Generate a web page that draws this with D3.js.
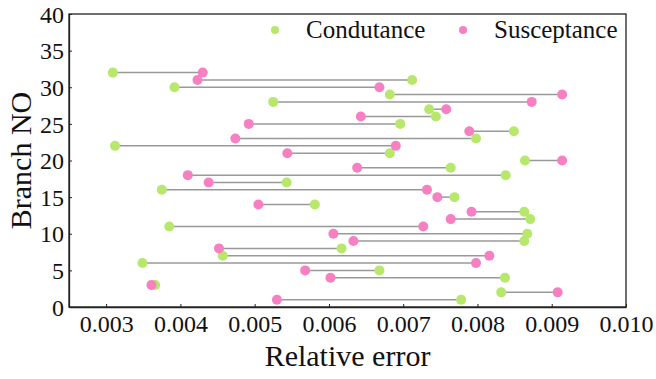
<!DOCTYPE html>
<html>
<head>
<meta charset="utf-8">
<script src="https://cdn.jsdelivr.net/npm/d3@7"></script>
<style>
  body { margin: 0; background: #fff; }
</style>
</head>
<body>
<div id="chart"></div>
<script>
// Branch numbers 1..32
const branches = d3.range(1, 33);

// Relative error per branch
const conductance = [
  0.00778, 0.00832, 0.00366, 0.00837, 0.00668, 0.00349, 0.00457, 0.00617,
  0.00863, 0.00867, 0.00385, 0.00871, 0.00863, 0.00581, 0.00769, 0.00375,
  0.00543, 0.00838, 0.00764, 0.00864, 0.00682, 0.00312, 0.00798, 0.00849,
  0.00696, 0.00744, 0.00735, 0.00525, 0.00682, 0.00392, 0.00712, 0.00309
];
const susceptance = [
  0.00530, 0.00908, 0.00361, 0.00602, 0.00568, 0.00798, 0.00816, 0.00452,
  0.00633, 0.00606, 0.00727, 0.00764, 0.00792, 0.00505, 0.00746, 0.00732,
  0.00438, 0.00410, 0.00638, 0.00914, 0.00544, 0.00690, 0.00474, 0.00789,
  0.00492, 0.00643, 0.00758, 0.00873, 0.00914, 0.00668, 0.00423, 0.00430
];

const xTicks = [0.003, 0.004, 0.005, 0.006, 0.007, 0.008, 0.009, 0.010];
const yTicks = [0, 5, 10, 15, 20, 25, 30, 35, 40];

const seriesNames = ['Condutance', 'Susceptance'];
const colors = { Condutance: '#b7e86b', Susceptance: '#f780c3' };

const FONT = "'Liberation Serif', 'Times New Roman', Tinos, 'DejaVu Serif', serif";

const width = 656, height = 379;
const margin = { top: 14, right: 30, bottom: 72, left: 69 };

const svg = d3.select('#chart').append('svg')
  .attr('width', width)
  .attr('height', height)
  .attr('font-family', FONT);

const x = d3.scaleLinear()
  .domain([0.0025, 0.010])
  .range([margin.left, width - margin.right]);

const y = d3.scaleLinear()
  .domain([0, 40])
  .range([height - margin.bottom, margin.top]);

// Dumbbell lines
const rows = branches.map((b, i) => ({ b, c: conductance[i], s: susceptance[i] }));

svg.append('g')
  .selectAll('line')
  .data(rows)
  .enter().append('line')
  .attr('x1', d => x(d.c))
  .attr('x2', d => x(d.s))
  .attr('y1', d => y(d.b))
  .attr('y2', d => y(d.b))
  .attr('stroke', '#999')
  .attr('stroke-width', 1.5);

svg.append('g')
  .selectAll('circle')
  .data(rows)
  .enter().append('circle')
  .attr('cx', d => x(d.c))
  .attr('cy', d => y(d.b))
  .attr('r', 5)
  .attr('fill', colors.Condutance);

svg.append('g')
  .selectAll('circle')
  .data(rows)
  .enter().append('circle')
  .attr('cx', d => x(d.s))
  .attr('cy', d => y(d.b))
  .attr('r', 5)
  .attr('fill', colors.Susceptance);

// Frame
svg.append('rect')
  .attr('x', x.range()[0])
  .attr('y', y.range()[1])
  .attr('width', x.range()[1] - x.range()[0])
  .attr('height', y.range()[0] - y.range()[1])
  .attr('fill', 'none')
  .attr('stroke', '#222')
  .attr('stroke-width', 1.3);

// Axes with inward ticks
const xAxis = svg.append('g')
  .attr('transform', `translate(0,${y.range()[0]})`)
  .call(d3.axisBottom(x).tickValues(xTicks).tickFormat(d3.format('.3f')).tickSizeInner(-3).tickSizeOuter(0).tickPadding(8));

const yAxis = svg.append('g')
  .attr('transform', `translate(${x.range()[0]},0)`)
  .call(d3.axisLeft(y).tickValues(yTicks).tickSizeInner(-3).tickSizeOuter(0).tickPadding(5));

[xAxis, yAxis].forEach(g => {
  g.attr('font-family', FONT).attr('font-size', 24);
  g.select('.domain').attr('stroke', '#222').attr('stroke-width', 1.3);
  g.selectAll('.tick line').attr('stroke', '#222');
  g.selectAll('.tick text').attr('fill', '#111');
});
yAxis.selectAll('.tick text').attr('dy', '0.34em');

// Axis titles
svg.append('text')
  .attr('x', (x.range()[0] + x.range()[1]) / 2)
  .attr('y', 366)
  .attr('text-anchor', 'middle')
  .attr('font-family', FONT)
  .attr('font-size', 30)
  .attr('fill', '#111')
  .text('Relative error');

svg.append('text')
  .attr('transform', `translate(31,${(y.range()[0] + y.range()[1]) / 2}) rotate(-90)`)
  .attr('text-anchor', 'middle')
  .attr('font-family', FONT)
  .attr('font-size', 30)
  .attr('fill', '#111')
  .text('Branch NO');

// Legend
const legendX = [275, 463];
seriesNames.forEach((name, i) => {
  const g = svg.append('g').attr('transform', `translate(${legendX[i]},30)`);
  g.append('circle').attr('r', 4).attr('fill', colors[name]);
  g.append('text')
    .attr('x', 31)
    .attr('y', 8)
    .attr('font-family', FONT)
    .attr('font-size', 25)
    .attr('fill', '#111')
    .text(name);
});
</script>
</body>
</html>
